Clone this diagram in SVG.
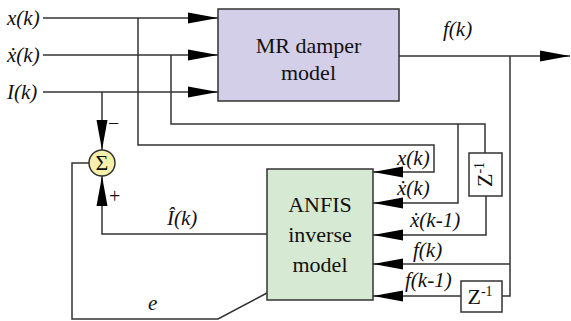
<svg xmlns="http://www.w3.org/2000/svg" width="571" height="321" viewBox="0 0 571 321" font-family="Liberation Serif, Times New Roman, serif">
<style>
.ln{fill:none;stroke:#333;stroke-width:1.5}
.box{stroke:#333;stroke-width:1.5}
text{font-family:"Liberation Serif",serif}
.t{font-size:22px;fill:#111}
.i{font-size:21px;font-style:italic;fill:#111}
.s{font-size:20px;fill:#111}
</style>
<defs>
<marker id="ah" viewBox="0 0 30 12" refX="30" refY="6" markerWidth="30" markerHeight="12" markerUnits="userSpaceOnUse" orient="auto">
<path d="M0,0.5 L30,6 L0,11.5 Z" fill="#000"/>
</marker>
</defs>
<g id="labels-in">
<text class="i" font-family="Liberation Serif" x="7" y="25">x(k)</text>
<text class="i" font-family="Liberation Serif" x="7" y="62">ẋ(k)</text>
<text class="i" font-family="Liberation Serif" x="7" y="99">I(k)</text>
</g>
<g id="mr">
<rect class="box" x="218" y="9" width="181" height="92" fill="#d3cfe8"/>
<text class="t" font-family="Liberation Serif" x="308.5" y="53" text-anchor="middle">MR damper</text>
<text class="t" font-family="Liberation Serif" x="308.5" y="80" text-anchor="middle">model</text>
</g>
<g id="anfis">
<rect class="box" x="267" y="169" width="106" height="131" fill="#d6e9d3"/>
<text class="t" font-family="Liberation Serif" x="320" y="212" text-anchor="middle">ANFIS</text>
<text class="t" font-family="Liberation Serif" x="320" y="242" text-anchor="middle">inverse</text>
<text class="t" font-family="Liberation Serif" x="320" y="272" text-anchor="middle">model</text>
</g>
<g id="sum">
<circle class="box" cx="102" cy="163" r="13" fill="#f7f0aa"/>
<text class="t" font-family="Liberation Serif" x="102" y="170" text-anchor="middle" font-size="19">Σ</text>
</g>
<g id="z1">
<rect class="box" x="469" y="153" width="33" height="43" fill="#fff"/>
<text class="t" font-family="Liberation Serif" transform="translate(492,174.5) rotate(-90)" text-anchor="middle">Z<tspan font-size="14" dy="-8">-1</tspan></text>
</g>
<g id="z2">
<rect class="box" x="461" y="281" width="41" height="31" fill="#fff"/>
<text class="t" font-family="Liberation Serif" x="480" y="304" text-anchor="middle">Z<tspan font-size="14" dy="-8">-1</tspan></text>
</g>
<g id="connectors">
<path class="ln" d="M43,18 H218" marker-end="url(#ah)"/>
<path class="ln" d="M43,55 H218" marker-end="url(#ah)"/>
<path class="ln" d="M43,92 H218" marker-end="url(#ah)"/>
<path class="ln" d="M102,92 V150" marker-end="url(#ah)"/>
<path class="ln" d="M399,56 H570" marker-end="url(#ah)"/>
<path class="ln" d="M138,18 V145 H434 V172 H373" marker-end="url(#ah)"/>
<path class="ln" d="M171,55 V124 H485 V153"/>
<path class="ln" d="M458,124 V203 H373" marker-end="url(#ah)"/>
<path class="ln" d="M486,196 V235 H373" marker-end="url(#ah)"/>
<path class="ln" d="M510,56 V296 H502"/>
<path class="ln" d="M510,264 H373" marker-end="url(#ah)"/>
<path class="ln" d="M461,296 H373" marker-end="url(#ah)"/>
<path class="ln" d="M267,234 H102 V176" marker-end="url(#ah)"/>
<path class="ln" d="M89,163 H72 V319 H218 L267,293"/>
</g>
<g id="conn-labels">
<text class="i" font-family="Liberation Serif" x="443" y="36">f(k)</text>
<text class="i" font-family="Liberation Serif" x="397" y="165">x(k)</text>
<text class="i" font-family="Liberation Serif" x="397" y="195">ẋ(k)</text>
<text class="i" font-family="Liberation Serif" x="410" y="227">ẋ(k-1)</text>
<text class="i" font-family="Liberation Serif" x="413" y="257">f(k)</text>
<text class="i" font-family="Liberation Serif" x="405" y="287">f(k-1)</text>
<text class="i" font-family="Liberation Serif" x="167" y="225">Î(k)</text>
<text class="i" font-family="Liberation Serif" x="148" y="310">e</text>
<text class="s" font-family="Liberation Serif" x="108" y="130">−</text>
<text class="s" font-family="Liberation Serif" x="109" y="203">+</text>
</g>
</svg>
